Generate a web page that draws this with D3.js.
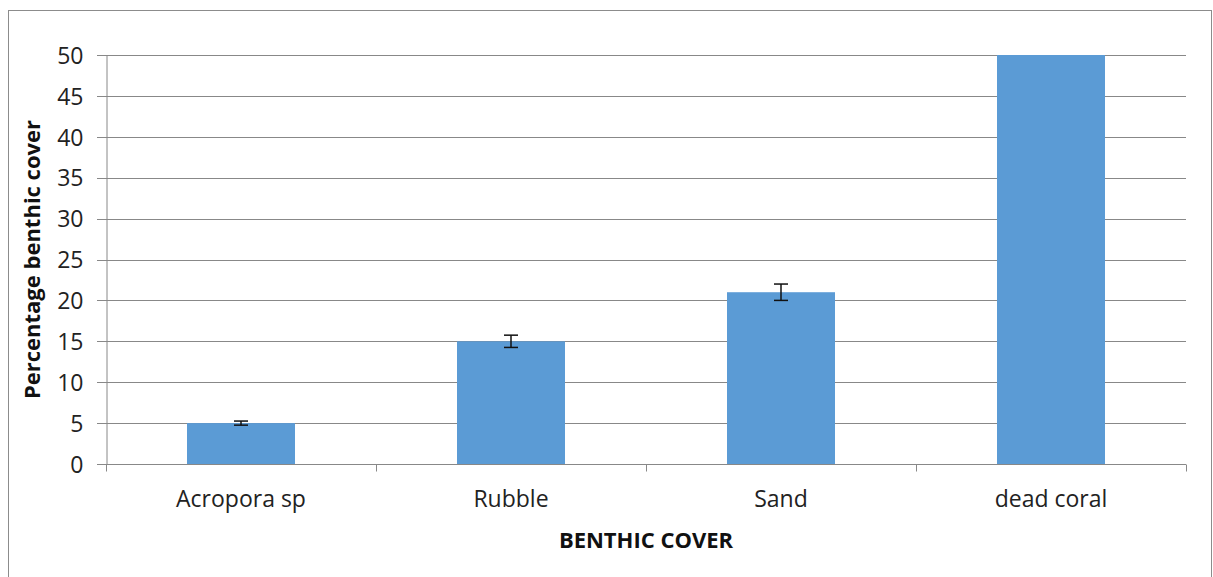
<!DOCTYPE html>
<html><head><meta charset="utf-8">
<script src="https://cdn.jsdelivr.net/npm/d3@7"></script>
<style>body{margin:0;background:#fff}svg{display:block}</style>
</head><body>
<script>
const categories = ["Acropora sp", "Rubble", "Sand", "dead coral"];
const values = [5, 15, 21, 50];
const errors = [0.25, 0.75, 1.0, 0];
const yTicks = [0, 5, 10, 15, 20, 25, 30, 35, 40, 45, 50];

const W = 1213, H = 577;
const m = {left:106, right:27, top:55, bottom:113};
const svg = d3.select("body").append("svg").attr("width", W).attr("height", H);
svg.append("rect").attr("x", 8.5).attr("y", 10.5).attr("width", 1203).attr("height", 580)
  .attr("fill", "#fff").attr("stroke", "#8c8c8c").attr("stroke-width", 1);

const x = d3.scaleBand().domain(categories).range([m.left, W - m.right]).paddingInner(0.6).paddingOuter(0.3);
const y = d3.scaleLinear().domain([0, 50]).range([H - m.bottom, m.top]);
const font = "'Open Sans', sans-serif";

// gridlines
svg.append("g").selectAll("line").data(yTicks).join("line")
  .attr("x1", m.left - 9).attr("x2", W - m.right)
  .attr("y1", d => Math.round(y(d)) + 0.5).attr("y2", d => Math.round(y(d)) + 0.5)
  .attr("stroke", "#888").attr("stroke-width", 1);

// y axis
const ya = svg.append("g").attr("transform", `translate(${m.left + 0.5},0)`)
  .call(d3.axisLeft(y).tickValues(yTicks).tickSize(0).tickPadding(23));
ya.select(".domain").attr("stroke", "#888");
ya.selectAll("text").attr("font-family", font).attr("font-size", 23).attr("fill", "#222").attr("dy", "0.36em");

// x axis
const xa = svg.append("g").attr("transform", `translate(0,${Math.round(y(0)) + 0.5})`);
xa.append("line").attr("x1", m.left).attr("x2", W - m.right).attr("stroke", "#888");
const step = (W - m.left - m.right) / categories.length;
xa.selectAll("line.t").data(d3.range(categories.length + 1)).join("line").attr("class", "t")
  .attr("x1", i => Math.round(m.left + i * step) + 0.5).attr("x2", i => Math.round(m.left + i * step) + 0.5)
  .attr("y1", 0).attr("y2", 7).attr("stroke", "#888");
xa.selectAll("text").data(categories).join("text")
  .attr("x", d => x(d) + x.bandwidth() / 2).attr("y", 42)
  .attr("text-anchor", "middle").attr("font-family", font).attr("font-size", 23).attr("fill", "#222")
  .text(d => d);

// bars
svg.append("g").selectAll("rect").data(categories).join("rect")
  .attr("x", d => x(d)).attr("width", x.bandwidth())
  .attr("y", (d, i) => y(values[i])).attr("height", (d, i) => y(0) - y(values[i]))
  .attr("fill", "#5B9BD5");

// error bars
const eb = svg.append("g").attr("stroke", "#111").attr("stroke-width", 1.5);
categories.forEach((c, i) => {
  if (!errors[i]) return;
  const cx = x(c) + x.bandwidth() / 2;
  const t = y(values[i] + errors[i]), b = y(values[i] - errors[i]);
  eb.append("line").attr("x1", cx).attr("x2", cx).attr("y1", t).attr("y2", b);
  eb.append("line").attr("x1", cx - 7).attr("x2", cx + 7).attr("y1", t).attr("y2", t);
  eb.append("line").attr("x1", cx - 7).attr("x2", cx + 7).attr("y1", b).attr("y2", b);
});

// titles
svg.append("text").attr("x", (m.left + W - m.right) / 2).attr("y", 548)
  .attr("text-anchor", "middle").attr("font-family", font).attr("font-size", 22).attr("font-weight", "bold").attr("fill", "#111")
  .text("BENTHIC COVER");
svg.append("text").attr("transform", `translate(40,${(m.top + H - m.bottom) / 2}) rotate(-90)`)
  .attr("text-anchor", "middle").attr("font-family", font).attr("font-size", 22).attr("font-weight", "bold").attr("fill", "#111")
  .text("Percentage benthic cover");
</script>
</body></html>
